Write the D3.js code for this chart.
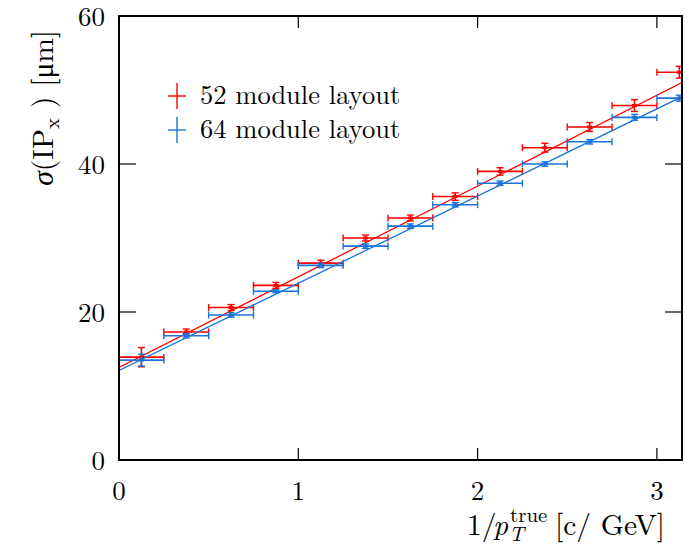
<!DOCTYPE html>
<html>
<head>
<meta charset="utf-8">
<script src="https://cdn.jsdelivr.net/npm/d3@7/dist/d3.min.js"></script>
<style>
  body { margin: 0; background: #fff; }
</style>
</head>
<body>
<div id="chart"></div>
<script>
// bin edges in 1/pT [c/GeV]
var binLow  = [0, 0.25, 0.5, 0.75, 1.0, 1.25, 1.5, 1.75, 2.0, 2.25, 2.5, 2.75, 3.0];
var binHigh = [0.25, 0.5, 0.75, 1.0, 1.25, 1.5, 1.75, 2.0, 2.25, 2.5, 2.75, 3.0, 3.25];

// 52 module layout
var redVals = [13.9, 17.3, 20.6, 23.6, 26.6, 30.0, 32.7, 35.6, 39.0, 42.2, 45.0, 47.9, 52.4];
var redErrs = [1.3, 0.4, 0.4, 0.4, 0.4, 0.4, 0.4, 0.5, 0.5, 0.6, 0.6, 0.8, 0.8];
// 64 module layout
var blueVals = [13.5, 16.8, 19.6, 22.8, 26.3, 28.9, 31.6, 34.5, 37.4, 40.0, 43.0, 46.3, 48.9];
var blueErrs = [0.8, 0.3, 0.3, 0.2, 0.3, 0.3, 0.3, 0.3, 0.3, 0.3, 0.3, 0.4, 0.4];

// linear fits (end points)
var redFit  = [[0, 12.5], [3.14, 51.0]];
var blueFit = [[0, 12.1], [3.14, 49.1]];

var xTicks = [0, 1, 2, 3];
var yTicks = [0, 20, 40, 60];

var seriesNames = ["52 module layout", "64 module layout"];
var colors = ["#ff0000", "#1a74db"];

var W = 685, H = 546;
var margin = {left: 119, right: 3, top: 16, bottom: 86};
var fontSize = 27, titleSize = 29.5, scriptSize = 21;

var svg = d3.select("#chart").append("svg")
    .attr("width", W)
    .attr("height", H)
    .attr("font-family", "Latin Modern Roman");

var x = d3.scaleLinear().domain([0, 3.14]).range([margin.left, W - margin.right]);
var y = d3.scaleLinear().domain([0, 60]).range([H - margin.bottom, margin.top]);

svg.append("clipPath").attr("id", "plotclip")
    .append("rect")
    .attr("x", margin.left).attr("y", margin.top)
    .attr("width", W - margin.right - margin.left)
    .attr("height", H - margin.bottom - margin.top);

var plot = svg.append("g").attr("clip-path", "url(#plotclip)");

function drawSeries(vals, errs, fit, color) {
    var g = plot.append("g");
    var line = d3.line().x(function(d) { return x(d[0]); }).y(function(d) { return y(d[1]); });
    g.append("path")
        .datum(fit)
        .attr("d", line)
        .attr("fill", "none")
        .attr("stroke", color)
        .attr("stroke-width", 1.3);

    var pts = g.selectAll(".pt").data(vals).enter().append("g");
    // horizontal bar
    pts.append("line")
        .attr("x1", function(d, i) { return x(binLow[i]); })
        .attr("x2", function(d, i) { return x(binHigh[i]); })
        .attr("y1", function(d) { return y(d); })
        .attr("y2", function(d) { return y(d); })
        .attr("stroke", color).attr("stroke-width", 1.6);
    // end caps of the bin bar
    [binLow, binHigh].forEach(function(edge) {
        pts.append("line")
            .attr("x1", function(d, i) { return x(edge[i]); })
            .attr("x2", function(d, i) { return x(edge[i]); })
            .attr("y1", function(d) { return y(d) - 3.5; })
            .attr("y2", function(d) { return y(d) + 3.5; })
            .attr("stroke", color).attr("stroke-width", 1.4);
    });
    // vertical error
    pts.append("line")
        .attr("x1", function(d, i) { return x((binLow[i] + binHigh[i]) / 2); })
        .attr("x2", function(d, i) { return x((binLow[i] + binHigh[i]) / 2); })
        .attr("y1", function(d, i) { return y(d - errs[i]); })
        .attr("y2", function(d, i) { return y(d + errs[i]); })
        .attr("stroke", color).attr("stroke-width", 1.6);
    [-1, 1].forEach(function(s) {
        pts.append("line")
            .attr("x1", function(d, i) { return x((binLow[i] + binHigh[i]) / 2) - 3.5; })
            .attr("x2", function(d, i) { return x((binLow[i] + binHigh[i]) / 2) + 3.5; })
            .attr("y1", function(d, i) { return y(d + s * errs[i]); })
            .attr("y2", function(d, i) { return y(d + s * errs[i]); })
            .attr("stroke", color).attr("stroke-width", 1.4);
    });
    // marker
    pts.append("rect")
        .attr("x", function(d, i) { return x((binLow[i] + binHigh[i]) / 2) - 2.5; })
        .attr("y", function(d) { return y(d) - 1.5; })
        .attr("width", 5).attr("height", 3)
        .attr("fill", color);
}

drawSeries(redVals, redErrs, redFit, colors[0]);
drawSeries(blueVals, blueErrs, blueFit, colors[1]);

// frame
svg.append("rect")
    .attr("x", margin.left).attr("y", margin.top)
    .attr("width", W - margin.right - margin.left)
    .attr("height", H - margin.bottom - margin.top)
    .attr("fill", "none").attr("stroke", "#000").attr("stroke-width", 2);

// ticks
var xTickLen = 12, yTickLen = 17;
xTicks.forEach(function(t) {
    svg.append("line").attr("x1", x(t)).attr("x2", x(t))
        .attr("y1", y(0)).attr("y2", y(0) - xTickLen)
        .attr("stroke", "#000").attr("stroke-width", 1.2);
    svg.append("line").attr("x1", x(t)).attr("x2", x(t))
        .attr("y1", y(60)).attr("y2", y(60) + xTickLen)
        .attr("stroke", "#000").attr("stroke-width", 1.2);
    svg.append("text").attr("x", x(t)).attr("y", y(0) + 40)
        .attr("text-anchor", "middle").attr("font-size", fontSize).text(t);
});
yTicks.forEach(function(t) {
    svg.append("line").attr("x1", x(0)).attr("x2", x(0) + yTickLen)
        .attr("y1", y(t)).attr("y2", y(t))
        .attr("stroke", "#000").attr("stroke-width", 1.2);
    svg.append("line").attr("x1", W - margin.right).attr("x2", W - margin.right - yTickLen)
        .attr("y1", y(t)).attr("y2", y(t))
        .attr("stroke", "#000").attr("stroke-width", 1.2);
    svg.append("text").attr("x", x(0) - 14).attr("y", y(t) + 10)
        .attr("text-anchor", "end").attr("font-size", fontSize).text(t);
});

// x axis title, pieces placed one by one
var xt = svg.append("text").attr("x", 467).attr("y", 535).attr("font-size", titleSize);
xt.append("tspan").text("1/");
xt.append("tspan").attr("x", 493).attr("font-style", "italic").text("p");
xt.append("tspan").attr("x", 509).attr("dy", 6).attr("font-style", "italic")
    .attr("font-size", scriptSize).text("T");
xt.append("tspan").attr("x", 510).attr("dy", -19).attr("font-size", scriptSize).text("true");
xt.append("tspan").attr("x", 555).attr("dy", 13).text("[c/ GeV]");

// y axis title
var yt = svg.append("text")
    .attr("transform", "translate(53,30) rotate(-90)")
    .attr("text-anchor", "end").attr("font-size", titleSize);
yt.append("tspan").attr("font-style", "italic").text("σ");
yt.append("tspan").text("(IP");
yt.append("tspan").attr("font-size", scriptSize).attr("dy", 6).text("x");
yt.append("tspan").attr("dy", -6).text(" ) [μm]");

// legend
var legend = svg.append("g");
seriesNames.forEach(function(name, i) {
    var cy = 96 + i * 34;
    legend.append("line").attr("x1", 168).attr("x2", 186).attr("y1", cy).attr("y2", cy)
        .attr("stroke", colors[i]).attr("stroke-width", 1.4);
    legend.append("line").attr("x1", 177).attr("x2", 177).attr("y1", cy - 13).attr("y2", cy + 13)
        .attr("stroke", colors[i]).attr("stroke-width", 1.4);
    legend.append("text").attr("x", 200).attr("y", cy + 8)
        .attr("font-size", 26.5).text(name);
});
</script>
</body>
</html>
